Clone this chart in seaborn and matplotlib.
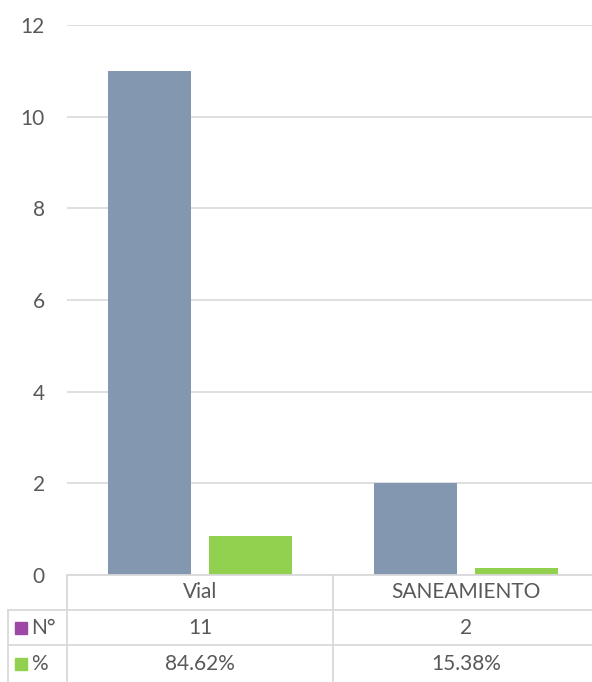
import numpy as np
import pandas as pd
import seaborn as sns
import matplotlib.pyplot as plt
from matplotlib.lines import Line2D
from matplotlib.patches import Rectangle
import matplotlib.transforms as mtransforms

# data
categories = ['Vial', 'SANEAMIENTO']
n_values = [11, 2]
pct_values = [0.8462, 0.1538]
series_names = ['N°', '%']

bar_colors = ['#8497B0', '#92D050']
key_colors = ['#9E48A6', '#92D050']
text_color = '#595959'
line_color = '#D9D9D9'

df = pd.DataFrame({
    'categoria': categories * 2,
    'serie': [series_names[0]] * 2 + [series_names[1]] * 2,
    'valor': n_values + pct_values,
})

sns.set_style('white')
plt.rcParams['font.family'] = ['Lato', 'DejaVu Sans']

W, H = 592, 682
fig = plt.figure(figsize=(W / 100, H / 100), dpi=100)
# plot area runs a little past the right edge, as in the original
ax = fig.add_axes([67 / W, 107 / H, 532 / W, 550 / H])

sns.barplot(data=df, x='categoria', y='valor', hue='serie', palette=bar_colors,
            width=0.76, gap=0.18, ax=ax, legend=False, saturation=1,
            linewidth=0)

ax.set_ylim(0, 12)
ax.set_xlim(-0.5, 1.5)
ax.set_yticks(range(0, 13, 2))
ax.yaxis.grid(True, color=line_color, linewidth=1.2)
ax.set_axisbelow(True)
for s in ax.spines.values():
    s.set_visible(False)
ax.set_xlabel('')
ax.set_ylabel('')
ax.set_xticklabels([])
ax.tick_params(axis='y', length=0, pad=16, labelsize=15, labelcolor=text_color)
ax.tick_params(axis='x', length=0)

# data table under the chart, in figure pixels
ov = fig.add_axes([0, 0, 1, 1], facecolor='none')
ov.set_xlim(0, W)
ov.set_ylim(H, 0)
ov.axis('off')

def hline(y, x0, x1):
    ov.add_line(Line2D([x0, x1], [y, y], color=line_color, lw=1.3))

def vline(x, y0, y1):
    ov.add_line(Line2D([x, x], [y0, y1], color=line_color, lw=1.3))

hline(575, 67, W)
hline(610, 8, W)
hline(645, 8, W)
vline(67, 575, H)
vline(8, 610, H)
vline(333, 575, H)

# cell texts aligned with category centers
trans = mtransforms.blended_transform_factory(ax.transData, ov.transData)
rows = [
    (592.5, categories),
    (627.5, [str(v) for v in n_values]),
    (663.5, [f'{v * 100:.2f}%' for v in pct_values]),
]
for y, texts in rows:
    for i, t in enumerate(texts):
        ov.text(i, y, t, transform=trans, ha='center', va='center',
                fontsize=15, color=text_color)

for y, name, c in zip([627.5, 663.5], series_names, key_colors):
    ov.add_patch(Rectangle((15, y - 6), 12, 12, color=c))
    ov.text(31, y, name, ha='left', va='center', fontsize=15, color=text_color)

fig.savefig('out.png', dpi=100)
